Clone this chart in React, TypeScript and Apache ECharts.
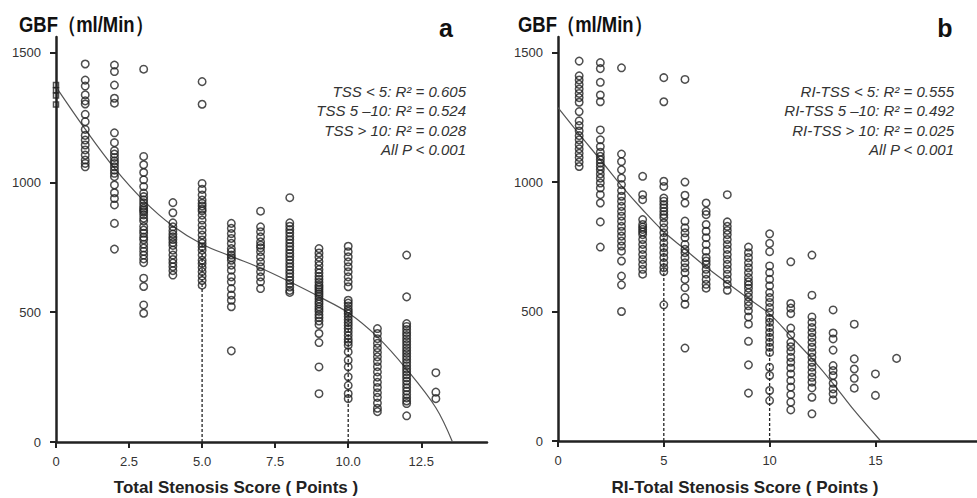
import { useEffect, useRef } from 'react';
import * as echarts from 'echarts';

// ---------- Panel a: Total Stenosis Score ----------
const tss0 = [1375, 1355, 1335, 1300];
const tss1 = [1456, 1394, 1371, 1337, 1314, 1302, 1262, 1234, 1204, 1181, 1163, 1144, 1125, 1105, 1086, 1073, 1060];
const tss2 = [1452, 1427, 1375, 1324, 1305, 1191, 1153, 1122, 1109, 1096, 1083, 1073, 1060, 1047, 1035, 1022, 990, 960, 938, 913, 842, 743];
const tss3 = [1436, 1100, 1068, 1038, 1010, 984, 959, 945, 933, 921, 909, 900, 893, 886, 875, 862, 851, 830, 816, 804, 789, 779, 762, 747, 734, 720, 705, 691, 631, 599, 528, 496];
const tss4 = [922, 883, 844, 829, 814, 801, 790, 780, 768, 757, 739, 720, 703, 689, 675, 660, 643];
const tss5 = [1388, 1301, 996, 973, 951, 932, 919, 909, 897, 890, 874, 855, 835, 816, 797, 778, 765, 752, 739, 720, 700, 688, 672, 656, 639, 622, 604];
const tss6 = [842, 823, 803, 784, 765, 745, 733, 720, 710, 700, 681, 662, 636, 617, 591, 566, 546, 521, 351];
const tss7 = [889, 829, 810, 790, 771, 758, 748, 733, 713, 694, 675, 656, 636, 617, 591];
const tss8 = [941, 844, 831, 818, 805, 792, 779, 766, 753, 740, 727, 714, 701, 688, 675, 662, 649, 636, 623, 610, 597, 584, 576];
const tss9 = [745, 728, 712, 695, 680, 664, 651, 638, 627, 615, 604, 596, 588, 579, 570, 561, 551, 540, 532, 521, 512, 503, 490, 479, 466, 452, 418, 383, 289, 186];
const tss10 = [754, 733, 713, 694, 675, 656, 636, 617, 598, 546, 535, 524, 512, 503, 494, 483, 471, 460, 449, 437, 424, 410, 396, 385, 373, 347, 315, 289, 251, 218, 186, 167];
const tss11 = [437, 418, 398, 380, 362, 345, 328, 310, 290, 270, 250, 230, 210, 190, 172, 150, 130, 117];
const tss12 = [720, 559, 456, 445, 433, 421, 410, 398, 387, 375, 363, 352, 341, 329, 318, 306, 294, 282, 271, 259, 247, 235, 222, 209, 196, 183, 170, 158, 148, 101];
const tss13 = [267, 192, 167];

const tssFitX = [0, 1, 2, 3, 4, 5, 6, 7, 8, 9, 10, 11, 12, 13, 13.57];
const tssFitY = [1368, 1205, 1055, 930, 832, 762, 715, 670, 617, 560, 498, 405, 280, 132, 0];
const tssCutX = [5, 10];
const tssCutTop = [762, 498];
const tssTicks = [0, 2.5, 5, 7.5, 10, 12.5];

// ---------- Panel b: RI-Total Stenosis Score ----------
const ri1 = [1467, 1410, 1394, 1377, 1359, 1342, 1326, 1308, 1272, 1236, 1218, 1197, 1179, 1163, 1144, 1128, 1111, 1095, 1077, 1060];
const ri2 = [1461, 1438, 1385, 1336, 1310, 1201, 1163, 1137, 1115, 1099, 1086, 1073, 1060, 1047, 1031, 1015, 996, 977, 951, 919, 846, 749];
const ri3 = [1441, 1108, 1079, 1047, 1015, 990, 967, 945, 926, 906, 887, 868, 849, 829, 810, 791, 772, 753, 733, 695, 637, 603, 500];
const ri4 = [1022, 951, 932, 855, 836, 826, 817, 807, 797, 778, 759, 740, 720, 701, 682, 663, 644];
const ri5 = [1403, 1310, 1003, 983, 938, 926, 913, 900, 887, 874, 862, 842, 823, 804, 785, 765, 746, 727, 708, 688, 669, 654, 526];
const ri6 = [1396, 1000, 949, 919, 849, 823, 804, 785, 759, 740, 727, 708, 688, 669, 650, 624, 592, 554, 528, 359];
const ri7 = [919, 887, 874, 836, 810, 785, 759, 733, 708, 695, 682, 663, 644, 624, 605, 590];
const ri8 = [951, 846, 829, 813, 797, 778, 759, 740, 720, 701, 682, 663, 644, 624, 605, 582];
const ri9 = [749, 727, 708, 688, 669, 650, 631, 615, 603, 590, 573, 556, 538, 522, 503, 479, 451, 385, 294, 185];
const ri10 = [800, 763, 731, 676, 650, 624, 599, 573, 554, 535, 515, 496, 474, 458, 438, 419, 400, 381, 362, 342, 285, 253, 195, 156];
const ri11 = [692, 531, 513, 492, 436, 410, 381, 364, 346, 323, 304, 282, 259, 233, 208, 179, 150, 120];
const ri12 = [718, 563, 479, 458, 438, 419, 400, 381, 362, 342, 323, 304, 285, 265, 246, 227, 205, 169, 105];
const ri13 = [506, 417, 394, 351, 291, 272, 253, 223, 201, 182, 159];
const ri14 = [451, 317, 278, 242, 204];
const ri15 = [259, 176];
const ri16 = [319];

const riFitX = [0, 1, 2, 3, 4, 5, 6, 7, 8, 9, 10, 11, 12, 13, 14, 15.25];
const riFitY = [1287, 1185, 1086, 985, 893, 808, 740, 672, 610, 550, 490, 405, 318, 222, 118, 0];
const riCutX = [5, 10];
const riCutTop = [808, 490];
const riTicks = [0, 5, 10, 15];

const yTicks = [0, 500, 1000, 1500];

const tssText = ['TSS < 5: R² = 0.605', 'TSS 5 –10: R² = 0.524', 'TSS > 10: R² = 0.028', 'All P < 0.001'];
const riText = ['RI-TSS < 5: R² = 0.555', 'RI-TSS 5 –10: R² = 0.492', 'RI-TSS > 10: R² = 0.025', 'All P < 0.001'];

const tssColumns: [number, number[]][] = [
  [1, tss1], [2, tss2], [3, tss3], [4, tss4], [5, tss5], [6, tss6], [7, tss7],
  [8, tss8], [9, tss9], [10, tss10], [11, tss11], [12, tss12], [13, tss13],
];
const riColumns: [number, number[]][] = [
  [1, ri1], [2, ri2], [3, ri3], [4, ri4], [5, ri5], [6, ri6], [7, ri7], [8, ri8],
  [9, ri9], [10, ri10], [11, ri11], [12, ri12], [13, ri13], [14, ri14], [15, ri15], [16, ri16],
];

const FONT = '"Liberation Sans", Arial, sans-serif';
const INK = '#222';

function toPoints(cols: [number, number[]][]) {
  const out: number[][] = [];
  cols.forEach(([x, ys]) => ys.forEach((y) => out.push([x, y])));
  return out;
}

function xAxisFor(grid: number, max: number, ticks: number[], fmt: (v: number) => string) {
  return {
    type: 'value', gridIndex: grid, min: 0, max,
    axisLine: { show: true, onZero: false, lineStyle: { color: INK, width: 2.5 } },
    axisTick: { show: true, length: 6, customValues: ticks, lineStyle: { color: INK, width: 2 } },
    axisLabel: { customValues: ticks, formatter: fmt, fontSize: 13, color: '#333', margin: 13, fontFamily: FONT },
    splitLine: { show: false },
  };
}

function yAxisFor(grid: number) {
  return {
    type: 'value', gridIndex: grid, min: 0, max: 1560,
    axisLine: { show: true, onZero: false, lineStyle: { color: INK, width: 2.5 } },
    axisTick: { show: true, length: 6, customValues: yTicks, lineStyle: { color: INK, width: 2 } },
    axisLabel: { customValues: yTicks, formatter: (v: number) => String(v), fontSize: 13, color: '#333', margin: 15, fontFamily: FONT },
    splitLine: { show: false },
  };
}

const scatterStyle = { color: 'rgba(0,0,0,0)', borderColor: INK, borderWidth: 1.5 };

function cutSeries(idx: number, xs: number[], tops: number[]) {
  return xs.map((x, i) => ({
    type: 'line', xAxisIndex: idx, yAxisIndex: idx, data: [[x, 0], [x, tops[i]]],
    showSymbol: false, silent: true, z: 1,
    lineStyle: { color: INK, width: 1.3, type: [3, 2] },
  }));
}

function fitSeries(idx: number, xs: number[], ys: number[]) {
  return {
    type: 'line', xAxisIndex: idx, yAxisIndex: idx, data: xs.map((x, i) => [x, ys[i]]),
    showSymbol: false, smooth: 0.35, silent: true, z: 3,
    lineStyle: { color: '#555', width: 1.2 },
  };
}

function textLines(right: number, lines: string[]) {
  return lines.map((t, i) => ({
    type: 'text', x: right, y: 91 + i * 19.5,
    style: { text: t, fill: '#333', font: `italic 15px ${FONT}`, textAlign: 'right', textVerticalAlign: 'middle' },
  }));
}

function titleText(x: number) {
  return {
    type: 'text', x, y: 24, scaleX: 0.84,
    style: { text: 'GBF（ml/Min）', fill: '#111', font: `bold 22px ${FONT}`, textAlign: 'left', textVerticalAlign: 'middle' },
  };
}

const option = {
  animation: false,
  backgroundColor: '#ffffff',
  grid: [
    { left: 56, top: 37, width: 431, height: 405 },
    { left: 558, top: 37, width: 419, height: 404 },
  ],
  xAxis: [
    xAxisFor(0, 14.75, tssTicks, (v: number) => (v === 0 ? '0' : v.toFixed(1))),
    xAxisFor(1, 19.8, riTicks, (v: number) => String(v)),
  ],
  yAxis: [yAxisFor(0), yAxisFor(1)],
  series: [
    ...cutSeries(0, tssCutX, tssCutTop),
    ...cutSeries(1, riCutX, riCutTop),
    fitSeries(0, tssFitX, tssFitY),
    fitSeries(1, riFitX, riFitY),
    {
      type: 'scatter', xAxisIndex: 0, yAxisIndex: 0, symbol: 'rect', symbolSize: 5, z: 4,
      data: tss0.map((y) => [0, y]), itemStyle: scatterStyle,
    },
    {
      type: 'scatter', xAxisIndex: 0, yAxisIndex: 0, symbol: 'circle', symbolSize: 7.5, z: 4,
      data: toPoints(tssColumns), itemStyle: scatterStyle,
    },
    {
      type: 'scatter', xAxisIndex: 1, yAxisIndex: 1, symbol: 'circle', symbolSize: 7.5, z: 4,
      data: toPoints(riColumns), itemStyle: scatterStyle,
    },
  ],
  graphic: [
    titleText(19),
    titleText(518),
    { type: 'text', x: 446, y: 28, style: { text: 'a', fill: '#111', font: `bold 25px ${FONT}`, textAlign: 'center', textVerticalAlign: 'middle' } },
    { type: 'text', x: 945, y: 28, style: { text: 'b', fill: '#111', font: `bold 25px ${FONT}`, textAlign: 'center', textVerticalAlign: 'middle' } },
    ...textLines(466, tssText),
    ...textLines(954, riText),
    { type: 'text', x: 236, y: 487, style: { text: 'Total Stenosis Score ( Points )', fill: INK, font: `bold 17px ${FONT}`, textAlign: 'center', textVerticalAlign: 'middle' } },
    { type: 'text', x: 745, y: 487, style: { text: 'RI-Total Stenosis Score ( Points )', fill: INK, font: `bold 17px ${FONT}`, textAlign: 'center', textVerticalAlign: 'middle' } },
  ],
};

export default function App() {
  const ref = useRef<HTMLDivElement>(null);
  useEffect(() => {
    const chart = echarts.init(ref.current!, null, { renderer: 'svg' });
    chart.setOption(option as any);
    return () => chart.dispose();
  }, []);
  return (
    <div
      ref={ref}
      style={{ position: 'fixed', left: 0, top: 0, width: 977, height: 498, background: '#ffffff' }}
    />
  );
}
